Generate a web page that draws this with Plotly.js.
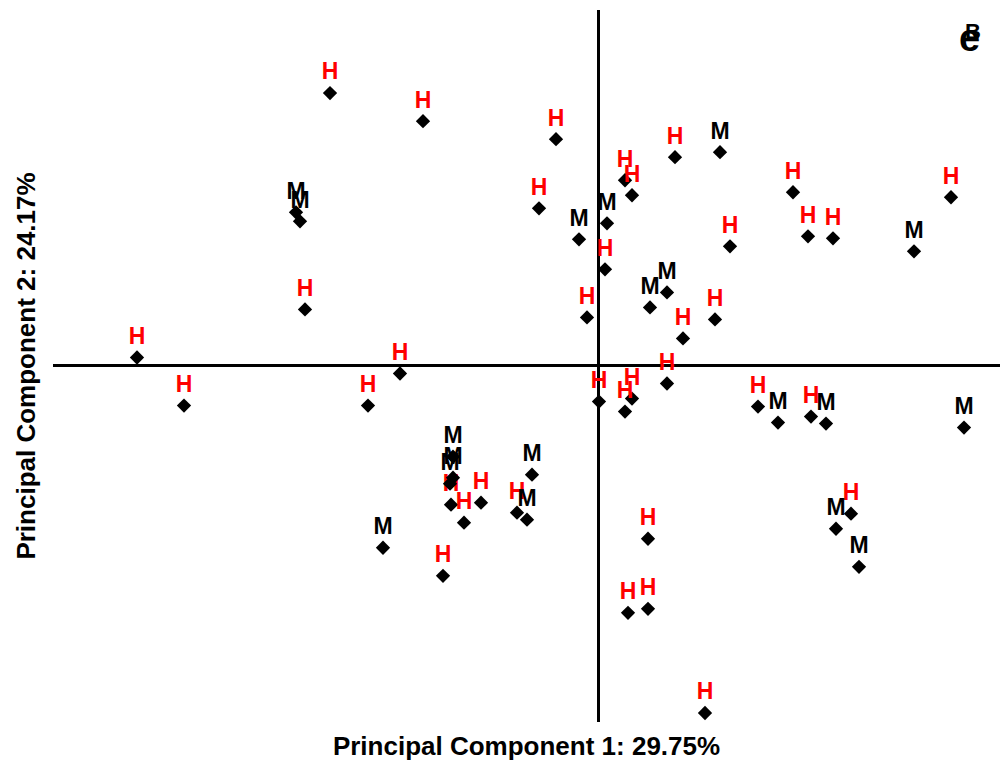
<!DOCTYPE html>
<html>
<head>
<meta charset="utf-8">
<script src="https://cdn.plot.ly/plotly-3.0.1.min.js"></script>
<style>html,body{margin:0;padding:0;background:#fff;}#chart{width:1000px;height:763px;}</style>
</head>
<body>
<div id="chart"></div>
<script>
// Group H samples (PC1, PC2 scores)
const hX = [-4.61,-4.14,-2.68,-1.75,-2.93,-1.98,-2.30,-1.55,-1.47,-1.34,-1.17,-0.81,-0.42,-0.59,0.77,0.27,0.34,1.32,0.07,-0.11,1.17,0.85,1.95,2.10,2.35,3.53,0.01,0.34,0.27,0.69,1.60,2.13,2.53,0.50,0.30,0.50,1.07];
const hY = [0.08,-0.40,2.72,2.44,0.56,-0.08,-0.40,-2.10,-1.39,-1.57,-1.37,-1.47,2.26,1.57,2.08,1.85,1.70,1.19,0.96,0.48,0.46,0.27,1.73,1.29,1.27,1.68,-0.36,-0.33,-0.46,-0.18,-0.41,-0.51,-1.48,-1.73,-2.47,-2.43,-3.47];
// Group M samples
const mX = [-3.02,-2.98,-2.15,-1.45,-1.45,-1.48,-0.66,-0.71,1.22,0.09,-0.19,0.69,0.52,3.16,1.80,2.28,3.66,2.38,2.61];
const mY = [1.53,1.44,-1.82,-0.91,-1.12,-1.18,-1.09,-1.54,2.13,1.42,1.26,0.73,0.58,1.14,-0.57,-0.58,-0.62,-1.63,-2.01];
const groupLabels = ['H','M'];
const xTitle = 'Principal Component 1: 29.75%';
const yTitle = 'Principal Component 2: 24.17%';

const font = 'Arial, "Liberation Sans", sans-serif';
function trace(xs, ys, lab, col){
  return {
    x: xs, y: ys, type: 'scatter', mode: 'markers+text',
    text: xs.map(()=>'<b>'+lab+'</b>'),
    textposition: 'top center',
    textfont: {family: font, size: 23, color: col},
    marker: {symbol: 'diamond', size: 11, color: '#000'},
    hoverinfo: 'none', cliponaxis: false, showlegend: false
  };
}
const data = [trace(hX, hY, groupLabels[0], '#ff0000'), trace(mX, mY, groupLabels[1], '#000000')];
const axisCommon = {showgrid: false, showticklabels: false, ticks: '', showline: false,
  zeroline: true, zerolinecolor: '#000', zerolinewidth: 3};
const layout = {
  width: 1000, height: 763,
  margin: {l: 53, r: 0, t: 10, b: 41},
  paper_bgcolor: '#fff', plot_bgcolor: '#fff',
  xaxis: Object.assign({}, axisCommon, {range: [-5.45, 4.02],
    title: {text: '<b>'+xTitle+'</b>', font: {family: font, size: 26, color: '#000'}, standoff: 14}}),
  yaxis: Object.assign({}, axisCommon, {range: [-3.56, 3.55],
    title: {text: '<b>'+yTitle+'</b>', font: {family: font, size: 26, color: '#000'}, standoff: 8}}),
  annotations: [
    {xref: 'paper', yref: 'paper', x: 0.968, y: 0.96, xanchor: 'center', yanchor: 'middle',
     text: '<b>e</b>', showarrow: false, font: {family: font, size: 38, color: '#000'}},
    {xref: 'paper', yref: 'paper', x: 0.972, y: 0.97, xanchor: 'center', yanchor: 'middle',
     text: '<b>B</b>', showarrow: false, font: {family: font, size: 22, color: '#000'}}
  ]
};
Plotly.newPlot('chart', data, layout, {displayModeBar: false, staticPlot: true});
</script>
</body>
</html>
